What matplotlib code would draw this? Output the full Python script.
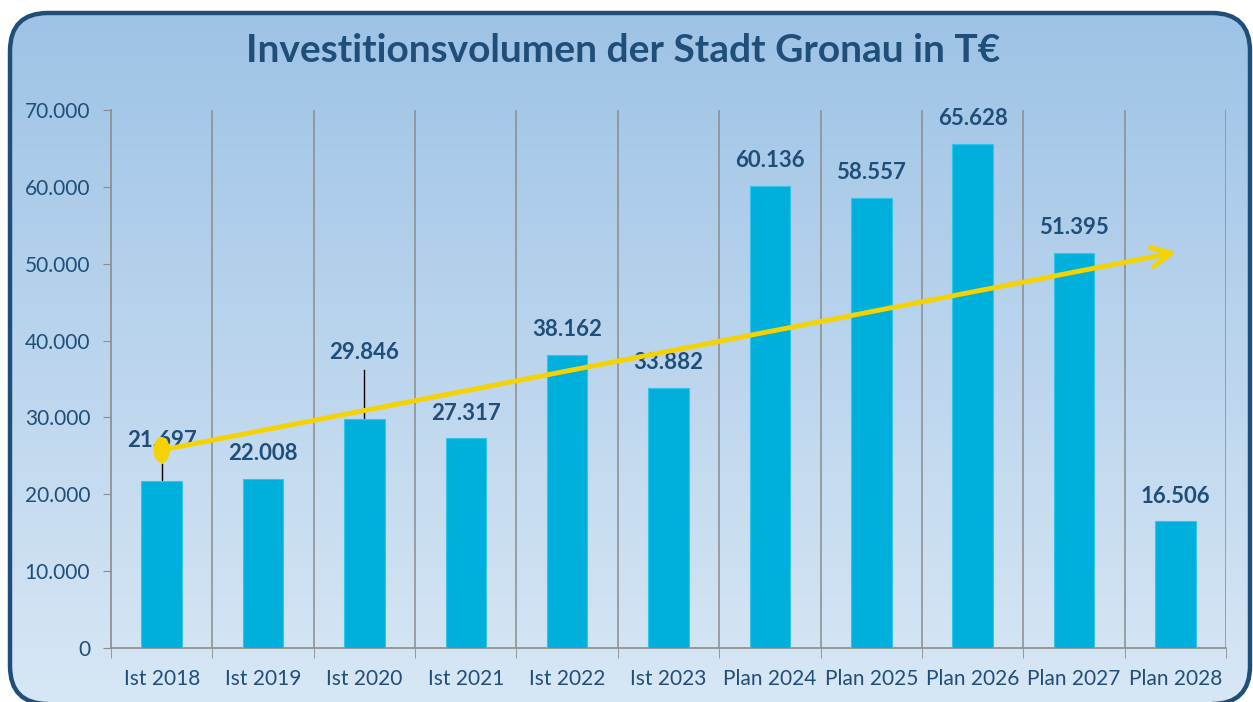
import matplotlib
matplotlib.use("Agg")
import matplotlib.pyplot as plt
import numpy as np
from matplotlib.patches import FancyBboxPatch, Ellipse, FancyArrowPatch
from matplotlib.ticker import FuncFormatter, FixedLocator

categories = ["Ist 2018", "Ist 2019", "Ist 2020", "Ist 2021", "Ist 2022", "Ist 2023",
              "Plan 2024", "Plan 2025", "Plan 2026", "Plan 2027", "Plan 2028"]
values = [21697, 22008, 29846, 27317, 38162, 33882, 60136, 58557, 65628, 51395, 16506]
label_texts = ["21.697", "22.008", "29.846", "27.317", "38.162", "33.882",
               "60.136", "58.557", "65.628", "51.395", "16.506"]
# trend arrow (start value at first category, end value at last category)
trend_start = 25760
trend_end = 51500
title = "Investitionsvolumen der Stadt Gronau in T€"

plt.rcParams['font.family'] = ['Lato', 'DejaVu Sans']

W, H = 1253, 702
fig = plt.figure(figsize=(W / 100, H / 100), dpi=100)

# background with rounded frame and vertical gradient
bg = fig.add_axes([0, 0, 1, 1], zorder=-10)
bg.set_xlim(0, W)
bg.set_ylim(0, H)
bg.axis('off')
top_c = np.array([158, 195, 230]) / 255
bot_c = np.array([216, 231, 245]) / 255
t = np.linspace(0, 1, 256)[:, None]
grad = (top_c[None, :] * (1 - t) + bot_c[None, :] * t)[:, None, :]
frame = FancyBboxPatch((10, -2), W - 13, H - 13 + 2,
                       boxstyle="round,pad=0,rounding_size=38",
                       facecolor='none', edgecolor='#1f4e79', linewidth=3.2, zorder=5)
bg.add_patch(frame)
im = bg.imshow(grad, extent=(10, W - 3, -2, H - 13), aspect='auto', origin='upper', zorder=1)
im.set_clip_path(frame)

fig.text(0.497, 0.928, title, ha='center', va='center', fontsize=28,
         fontweight='bold', color='#1f4e79')

ax = fig.add_axes([111 / W, 54 / H, (1226 - 111) / W, (648 - 110) / H])
ax.patch.set_alpha(0)
x = np.arange(len(categories))
ax.bar(x, values, width=0.4, color='#00b0dc', edgecolor='#33c4ea', linewidth=0.8, zorder=3)
ax.set_xlim(-0.5, len(categories) - 0.5)
ax.set_ylim(0, 70000)
ax.set_yticks(np.arange(0, 70001, 10000))
ax.yaxis.set_major_formatter(FuncFormatter(lambda v, p: "0" if v == 0 else f"{int(v):,}".replace(",", ".")))
ax.set_xticks(x)
ax.set_xticklabels(categories)
ax.xaxis.set_minor_locator(FixedLocator(np.arange(-0.5, len(categories), 1.0)))
ax.tick_params(axis='x', which='major', length=0, pad=15, labelsize=15, labelcolor='#1f4e79')
ax.tick_params(axis='x', which='minor', length=7, color='#8c8c8c', direction='out')
ax.tick_params(axis='y', length=6, color='#8c8c8c', direction='out', pad=9,
               labelsize=15, labelcolor='#1f4e79')
for s in ['top', 'right']:
    ax.spines[s].set_visible(False)
for s in ['left', 'bottom']:
    ax.spines[s].set_color('#8c8c8c')
    ax.spines[s].set_linewidth(1.2)
for b in np.arange(0.5, len(categories), 1.0):
    ax.axvline(b, color='#8c8c8c', linewidth=1.1, zorder=1)

# data labels
special = {0: (27050, 24000), 2: (38500, 36170)}
for i, (v, lab) in enumerate(zip(values, label_texts)):
    if i in special:
        ly, lead = special[i]
        ax.plot([i, i], [v, lead], color='black', linewidth=1, zorder=2)
        ax.text(i, ly, lab, ha='center', va='center', fontsize=16, fontweight='bold',
                color='#1f4e79', zorder=4)
    else:
        ax.annotate(lab, (i, v), xytext=(0, 18), textcoords='offset points',
                    ha='center', va='center', fontsize=16, fontweight='bold',
                    color='#1f4e79', zorder=4)

# trend arrow
yel = '#f5d300'
arr = FancyArrowPatch((0, trend_start), (len(categories) - 0.99, trend_end),
                      arrowstyle='->,head_length=14,head_width=7', color=yel,
                      linewidth=3.5, mutation_scale=1, zorder=6, shrinkA=0, shrinkB=0,
                      capstyle='round', joinstyle='round')
ax.add_patch(arr)
ax.add_patch(Ellipse((0, trend_start), 0.16, 3400, facecolor=yel, edgecolor='none', zorder=7))

fig.savefig("out.png", dpi=100)
